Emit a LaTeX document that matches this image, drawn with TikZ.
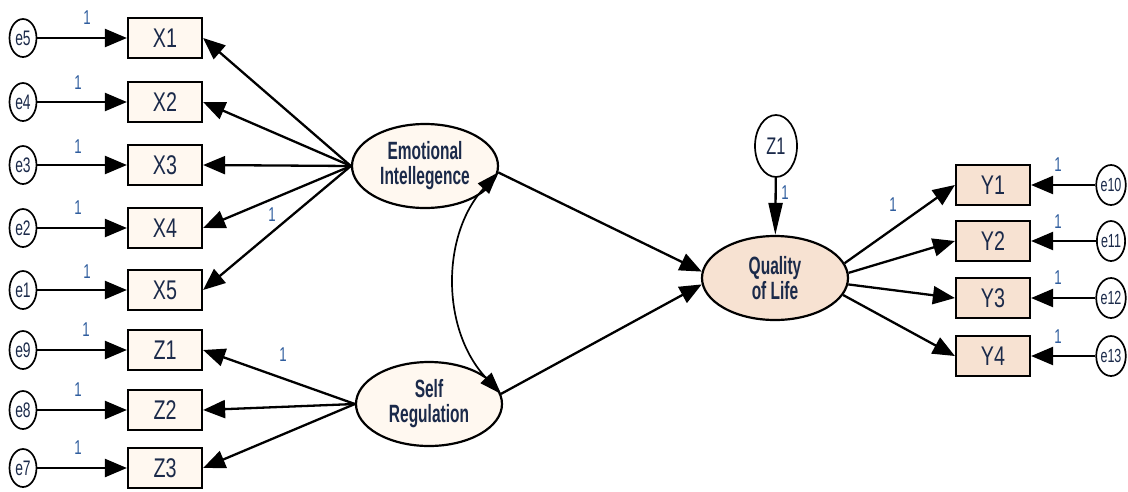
\documentclass[tikz,border=0pt]{standalone}
\usepackage{fontspec}
\setmainfont{Liberation Sans}[FakeStretch=0.82]
\newfontfamily\boxfont{Liberation Sans}[FakeStretch=0.73]
\newfontfamily\latfont{Liberation Sans}[FakeStretch=0.62]
\newfontfamily\errfont{Liberation Sans}[FakeStretch=0.66]
\newfontfamily\onefont{Liberation Sans}[FakeStretch=0.66]
\newfontfamily\zetafont{Liberation Sans}[FakeStretch=0.68]
\usetikzlibrary{arrows.meta,shapes.geometric}
\definecolor{ink}{HTML}{1B2A4A}
\definecolor{lblblue}{HTML}{2F5D9E}
\definecolor{cream}{HTML}{FFF8F0}
\definecolor{peach}{HTML}{F7E2D2}
\begin{document}
\begin{tikzpicture}[x=1pt,y=-1pt,
 obs/.style={draw, line width=2.2pt, fill=cream, minimum width=74pt, minimum height=40pt, inner sep=0pt, font=\boxfont\fontsize{27}{28}\selectfont, text=ink},
 err/.style={draw, ellipse, line width=1.7pt, fill=white, minimum width=27pt, minimum height=38pt, inner sep=0pt, font=\errfont\fontsize{21}{21}\selectfont, text=ink},
 lat/.style={draw, ellipse, line width=2.2pt, fill=cream, minimum width=146pt, minimum height=84pt, inner sep=0pt, align=center, font=\latfont\bfseries\fontsize{25}{25}\selectfont, text=ink},
 one/.style={font=\onefont\fontsize{20}{20}\selectfont, text=lblblue, inner sep=0pt},
 arr/.style={line width=2.3pt, -{Triangle[length=22pt,width=18pt]}},
 cov/.style={line width=1.7pt, {Triangle[length=22pt,width=15pt]}-{Triangle[length=22pt,width=15pt]}},
]
\fill[white] (0,0) rectangle (1128,491);
\path[use as bounding box] (0,0) rectangle (1128,491);

% latent variables
\node[lat] (EI) at (425,166) {Emotional\\Intellegence};
\node[lat] (SR) at (429,404) {Self\\Regulation};
\node[lat, fill=peach] (QoL) at (775,278) {Quality\\of Life};
\node[err, minimum width=42pt, minimum height=62pt, font=\zetafont\fontsize{24}{24}\selectfont] (zeta) at (776,146) {Z1};

% left indicators
\foreach \e/\x/\y in {e5/X1/38, e4/X2/102, e3/X3/165, e2/X4/228, e1/X5/290, e9/Z1/350, e8/Z2/410, e7/Z3/468}{
  \node[obs] (\x) at (165,\y) {\x};
  \node[err] (\e) at (23,\y) {\e};
  \draw[arr] (\e) -- (\x);
}

% right indicators
\foreach \e/\x/\y in {e10/Y1/185, e11/Y2/241, e12/Y3/298, e13/Y4/356}{
  \node[obs, fill=peach] (\x) at (993,\y) {\x};
  \node[err, minimum width=28pt, minimum height=40pt, font=\errfont\fontsize{19}{19}\selectfont] (\e) at (1111,\y) {\e};
  \draw[arr] (\e) -- (\x);
}

% loadings
\foreach \x in {X1,X2,X3,X4,X5}{ \draw[arr] (EI.west) -- (\x.east); }
\foreach \x in {Z1,Z2,Z3}{ \draw[arr] (SR.west) -- (\x.east); }
\draw[arr] (QoL.12) -- (Y1.west);
\draw[arr] (QoL.4) -- (Y2.west);
\draw[arr] (QoL.-5) -- (Y3.west);
\draw[arr] (QoL.-14) -- (Y4.west);

% structural paths
\draw[arr] (EI.-5) -- (QoL.175);
\draw[arr] (SR.8) -- (QoL.185);
\draw[line width=2.3pt, -{Triangle[length=32pt,width=14pt]}] (zeta) -- (QoL);
\draw[cov] (EI.-5) .. controls (441,235) and (441,330) .. (SR.8);

% labels
\node[one] (l1) at (87,18) {1};
\node[one] (l2) at (78,83) {1};
\node[one] (l3) at (78,147) {1};
\node[one] (l4) at (78,208) {1};
\node[one] (l5) at (87,272) {1};
\node[one] (l6) at (86,330) {1};
\node[one] (l7) at (78,390) {1};
\node[one] (l8) at (78,448) {1};
\node[one] (l9) at (272,215) {1};
\node[one] (l10) at (283,355) {1};
\node[one] (l11) at (1058,165) {1};
\node[one] (l12) at (1058,222) {1};
\node[one] (l13) at (1058,278) {1};
\node[one] (l14) at (1058,337) {1};
\node[one] (l15) at (893,205) {1};
\node[one] (l16) at (785,193) {1};
\end{tikzpicture}
\end{document}
